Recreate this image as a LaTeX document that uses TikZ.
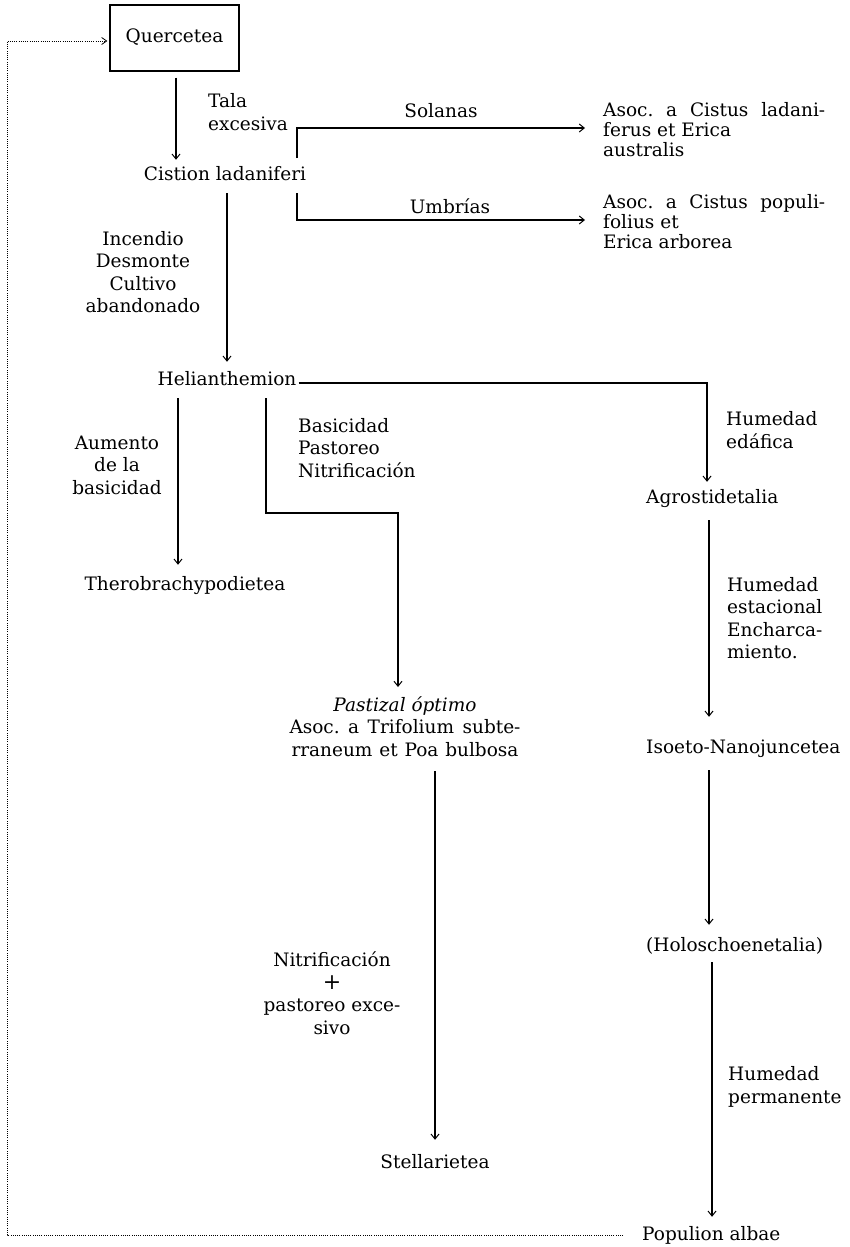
\documentclass[tikz,border=0pt]{standalone}
\usepackage{fontspec}
\setmainfont{DejaVu Serif}
\usetikzlibrary{arrows.meta,calc}
\begin{document}
\begin{tikzpicture}[x=1pt,y=-1pt,
  txt/.style={inner sep=0pt, text height=14pt, text depth=4pt, font=\fontsize{18.5}{22.5}\selectfont\frenchspacing},
  blk/.style={inner sep=0pt, font=\fontsize{18.5}{22.5}\selectfont\frenchspacing},
  asoc/.style={inner sep=0pt, align=left, anchor=west, font=\fontsize{18.5}{20}\selectfont\frenchspacing},
  arr/.style={line width=1.3pt, -{Straight Barb[length=5pt,width=8pt,line width=1pt]}},
  dots/.style={line width=0.8pt, dash pattern=on 0.9pt off 1.3pt},
]
\useasboundingbox (0,0) rectangle (849,1247);

% nodes
\node[txt, draw, line width=1.3pt, minimum width=129pt, minimum height=66pt] (Q) at (174.5,38) {Quercetea};
\node[txt] (C) at (225,175) {Cistion ladaniferi};
\node[blk, align=left, anchor=west] (tala) at (208,112) {Tala\\excesiva};
\node[txt] (sol) at (441,112) {Solanas};
\node[txt] (umb) at (450,208) {Umbrías};
\node[asoc] (as1) at (603,130) {\makebox[222pt][s]{Asoc. a Cistus ladani-}\\ferus et Erica\\australis};
\node[asoc] (as2) at (603,222) {\makebox[222pt][s]{Asoc. a Cistus populi-}\\folius et\\Erica arborea};
\node[blk, align=center] (inc) at (143,272) {Incendio\\Desmonte\\Cultivo\\abandonado};
\node[txt] (H) at (227,380) {Helianthemion};
\node[blk, align=center] (aum) at (117,465) {Aumento\\de la\\basicidad};
\node[txt] (T) at (185,585) {Therobrachypodietea};
\node[blk, align=left, anchor=west] (bas) at (298,448) {Basicidad\\Pastoreo\\Nitrificación};
\node[txt, anchor=west] (A) at (646,498) {Agrostidetalia};
\node[blk, align=left, anchor=west] (hum1) at (726,430) {Humedad\\edáfica};
\node[blk, align=left, anchor=west] (hum2) at (727,618) {Humedad\\estacional\\Encharca-\\miento.};
\node[txt, anchor=west] (I) at (646,748) {Isoeto-Nanojuncetea};
\node[blk, align=center, anchor=north] (past) at (405,696) {\textit{Pastizal óptimo}\\\makebox[231pt][s]{Asoc. a Trifolium subte-}\\\makebox[227pt][s]{rraneum et Poa bulbosa}};
\node[txt, anchor=west] (Hol) at (646,946) {(Holoschoenetalia)};
\node[blk, align=center] (nit) at (332,993) {Nitrificación\\{\fontsize{22}{22.5}\selectfont +}\\pastoreo exce-\\sivo};
\node[blk, align=left, anchor=west] (hum3) at (728,1087) {Humedad\\permanente};
\node[txt] (S) at (435,1163) {Stellarietea};
\node[txt, anchor=west] (P) at (642,1235) {Populion albae};

% helper coordinates
\coordinate (qx) at (176,0);
\coordinate (k1) at (297,128);
\coordinate (k2) at (297,158);
\coordinate (k3) at (297,193);
\coordinate (k4) at (297,220);
\coordinate (ha) at (707,383);
\coordinate (tx) at (178,0);
\coordinate (p1) at (266,513);
\coordinate (p2) at (398,513);
\coordinate (rx) at (709,0);
\coordinate (rx2) at (712,0);
\coordinate (lt) at (7,41);

% connectors
\draw[arr, shorten <=6pt, shorten >=6pt] (Q.south -| qx) -- (C.north -| qx);
\draw[arr, shorten <=9pt, shorten >=9pt] (C.south -| H.north) -- (H.north);
\draw[arr, shorten >=18pt] (k2) -- (k1) -- (k1 -| as1.west);
\draw[arr, shorten >=18pt] (k3) -- (k4) -- (k4 -| as1.west);
\draw[arr, shorten >=7pt] ([xshift=2pt,yshift=-3pt]H.east) -- (ha) -- (ha |- A.north);
\draw[arr, shorten <=9pt, shorten >=11pt] (H.south -| tx) -- (T.north -| tx);
\draw[arr, shorten <=9pt, shorten >=9pt] (H.south -| p1) -- (p1) -- (p2) -- (p2 |- past.north);
\draw[arr, shorten <=15pt, shorten >=14pt] (past.south -| S.north) -- (S.north);
\draw[arr, shorten <=13pt, shorten >=22pt] (A.south -| rx) -- (I.north -| rx);
\draw[arr, shorten <=13pt, shorten >=12pt] (I.south -| rx) -- (Hol.north -| rx);
\draw[arr, shorten <=7pt, shorten >=9pt] (Hol.south -| rx2) -- (P.north -| rx2);
\draw[dots, -{Straight Barb[length=5pt,width=7pt,line width=0.8pt]}, shorten <=19pt, shorten >=2pt]
  (P.west) -- (P.west -| lt) -- (lt) -- (lt -| Q.west);
\end{tikzpicture}
\end{document}
